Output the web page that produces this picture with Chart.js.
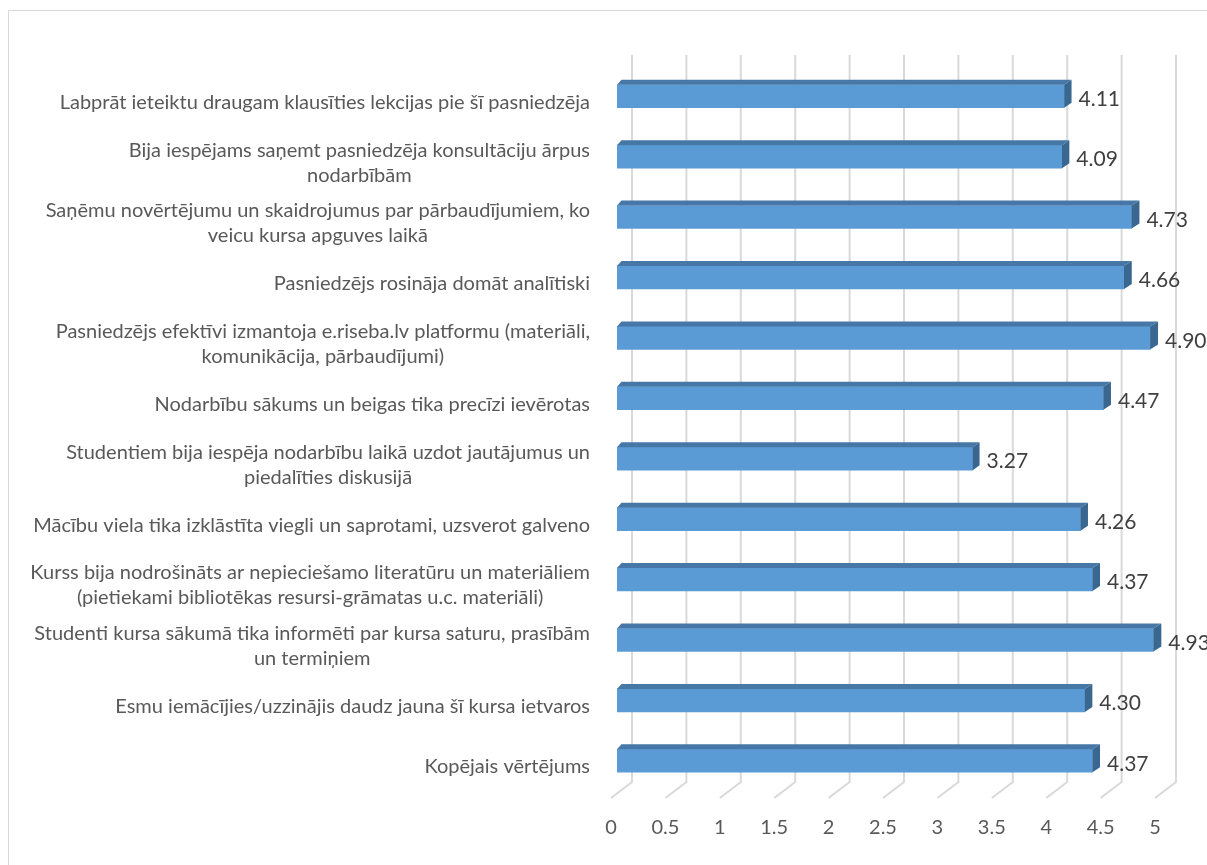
<!DOCTYPE html>
<html>
<head>
<meta charset="utf-8">
<script src="https://cdn.jsdelivr.net/npm/chart.js@4.4.1/dist/chart.umd.min.js"></script>
<style>
  html, body { margin: 0; padding: 0; background: #fff; }
  canvas { display: block; }
</style>
</head>
<body>
<canvas id="grafiks" width="1207" height="865"></canvas>
<script>
const kategorijas = [
  'Labprāt ieteiktu draugam klausīties lekcijas pie šī pasniedzēja',
  ['Bija iespējams saņemt pasniedzēja konsultāciju ārpus', 'nodarbībām'],
  ['Saņēmu novērtējumu un skaidrojumus par pārbaudījumiem, ko', 'veicu kursa apguves laikā'],
  'Pasniedzējs rosināja domāt analītiski',
  ['Pasniedzējs efektīvi izmantoja e.riseba.lv platformu (materiāli,', 'komunikācija, pārbaudījumi)'],
  'Nodarbību sākums un beigas tika precīzi ievērotas',
  ['Studentiem bija iespēja nodarbību laikā uzdot jautājumus un', 'piedalīties diskusijā'],
  'Mācību viela tika izklāstīta viegli un saprotami, uzsverot galveno',
  ['Kurss bija nodrošināts ar nepieciešamo literatūru un materiāliem', '(pietiekami bibliotēkas resursi-grāmatas u.c. materiāli)'],
  ['Studenti kursa sākumā tika informēti par kursa saturu, prasībām', 'un termiņiem'],
  'Esmu iemācījies/uzzinājis daudz jauna šī kursa ietvaros',
  'Kopējais vērtējums'
]
const vertejumi = [4.11, 4.09, 4.73, 4.66, 4.90, 4.47, 3.27, 4.26, 4.37, 4.93, 4.30, 4.37]
const asMin = 0
const asMax = 5
const asSolis = 0.5

const fonts = 'Lato, "Open Sans", sans-serif'

// 3D izskats: rezgis uz aizmugures sienas, stabinu augsa un sani, vertibas
const efekts3d = {
  id: 'efekts3d',
  beforeDraw(chart) {
    const c = chart.ctx
    c.save()
    c.fillStyle = '#ffffff'
    c.fillRect(0, 0, chart.width, chart.height)
    c.strokeStyle = '#d9d9d9'
    c.lineWidth = 1
    c.strokeRect(8.5, 10.5, 1400, 1000)
    c.restore()
  },
  beforeDatasetsDraw(chart) {
    const c = chart.ctx
    const xs = chart.scales.x
    const a = chart.chartArea
    const augsa = a.top - 11
    const aizmuga = a.bottom - 9
    const prieksa = aizmuga + 16
    c.save()
    c.strokeStyle = '#d9d9d9'
    c.lineWidth = 2
    xs.ticks.forEach(t => {
      const px = xs.getPixelForValue(t.value)
      c.beginPath()
      c.moveTo(px + 15, augsa)
      c.lineTo(px + 15, aizmuga)
      c.lineTo(px - 6, prieksa)
      c.stroke()
    })
    c.restore()
  },
  afterDatasetsDraw(chart) {
    const c = chart.ctx
    const a = chart.chartArea
    const meta = chart.getDatasetMeta(0)
    c.save()
    meta.data.forEach((bar, i) => {
      const p = bar.getProps(['x', 'y', 'base', 'height'], true)
      const top = p.y - p.height / 2
      const bottom = p.y + p.height / 2
      const dy = 5
      const dxL = 4.5
      const dxR = 4.5 + 3.5 * (p.x - a.left) / (a.right - a.left)
      // augsa
      c.fillStyle = '#4677a6'
      c.beginPath()
      c.moveTo(p.base, top)
      c.lineTo(p.base + dxL, top - dy)
      c.lineTo(p.x + dxR, top - dy)
      c.lineTo(p.x, top)
      c.closePath()
      c.fill()
      // sans
      c.fillStyle = '#3a6790'
      c.beginPath()
      c.moveTo(p.x, top)
      c.lineTo(p.x + dxR, top - dy)
      c.lineTo(p.x + dxR, bottom - dy)
      c.lineTo(p.x, bottom)
      c.closePath()
      c.fill()
      // vertiba
      c.fillStyle = '#404040'
      c.font = '21px ' + fonts
      c.textAlign = 'left'
      c.textBaseline = 'middle'
      c.fillText(vertejumi[i].toFixed(2), p.x + dxR + 7, p.y + 3)
    })
    c.restore()
  },
  afterDraw(chart) {
    const c = chart.ctx
    const ys = chart.scales.y
    const labaMala = chart.chartArea.left - 27
    c.save()
    c.fillStyle = '#595959'
    c.font = '20px ' + fonts
    c.textAlign = 'center'
    c.textBaseline = 'middle'
    kategorijas.forEach((k, i) => {
      const rindas = Array.isArray(k) ? k : [k]
      const platums = Math.max(...rindas.map(r => c.measureText(r).width))
      const cx = labaMala - platums / 2
      const cy = ys.getPixelForValue(i) + 6
      const solis = 25
      rindas.forEach((r, j) => {
        c.fillText(r, cx, cy + (j - (rindas.length - 1) / 2) * solis)
      })
    })
    c.restore()
  }
}

const ctx = document.getElementById('grafiks').getContext('2d')
new Chart(ctx, {
  type: 'bar',
  data: {
    labels: kategorijas,
    datasets: [{
      data: vertejumi,
      backgroundColor: '#5b9bd5',
      borderWidth: 0,
      barThickness: 23
    }]
  },
  options: {
    indexAxis: 'y',
    responsive: false,
    animation: false,
    devicePixelRatio: 1,
    layout: {
      padding: { left: 617, right: 46, top: 66, bottom: 0 }
    },
    scales: {
      x: {
        min: asMin,
        max: asMax,
        grid: { display: false, drawTicks: false },
        border: { display: false },
        ticks: {
          stepSize: asSolis,
          color: '#595959',
          font: { family: fonts, size: 20 },
          labelOffset: -6,
          padding: 25,
          callback: v => String(v)
        }
      },
      y: {
        grid: { display: false, drawTicks: false },
        border: { display: false },
        ticks: { display: false }
      }
    },
    plugins: {
      legend: { display: false },
      tooltip: { enabled: false }
    }
  },
  plugins: [efekts3d]
})
</script>
</body>
</html>
